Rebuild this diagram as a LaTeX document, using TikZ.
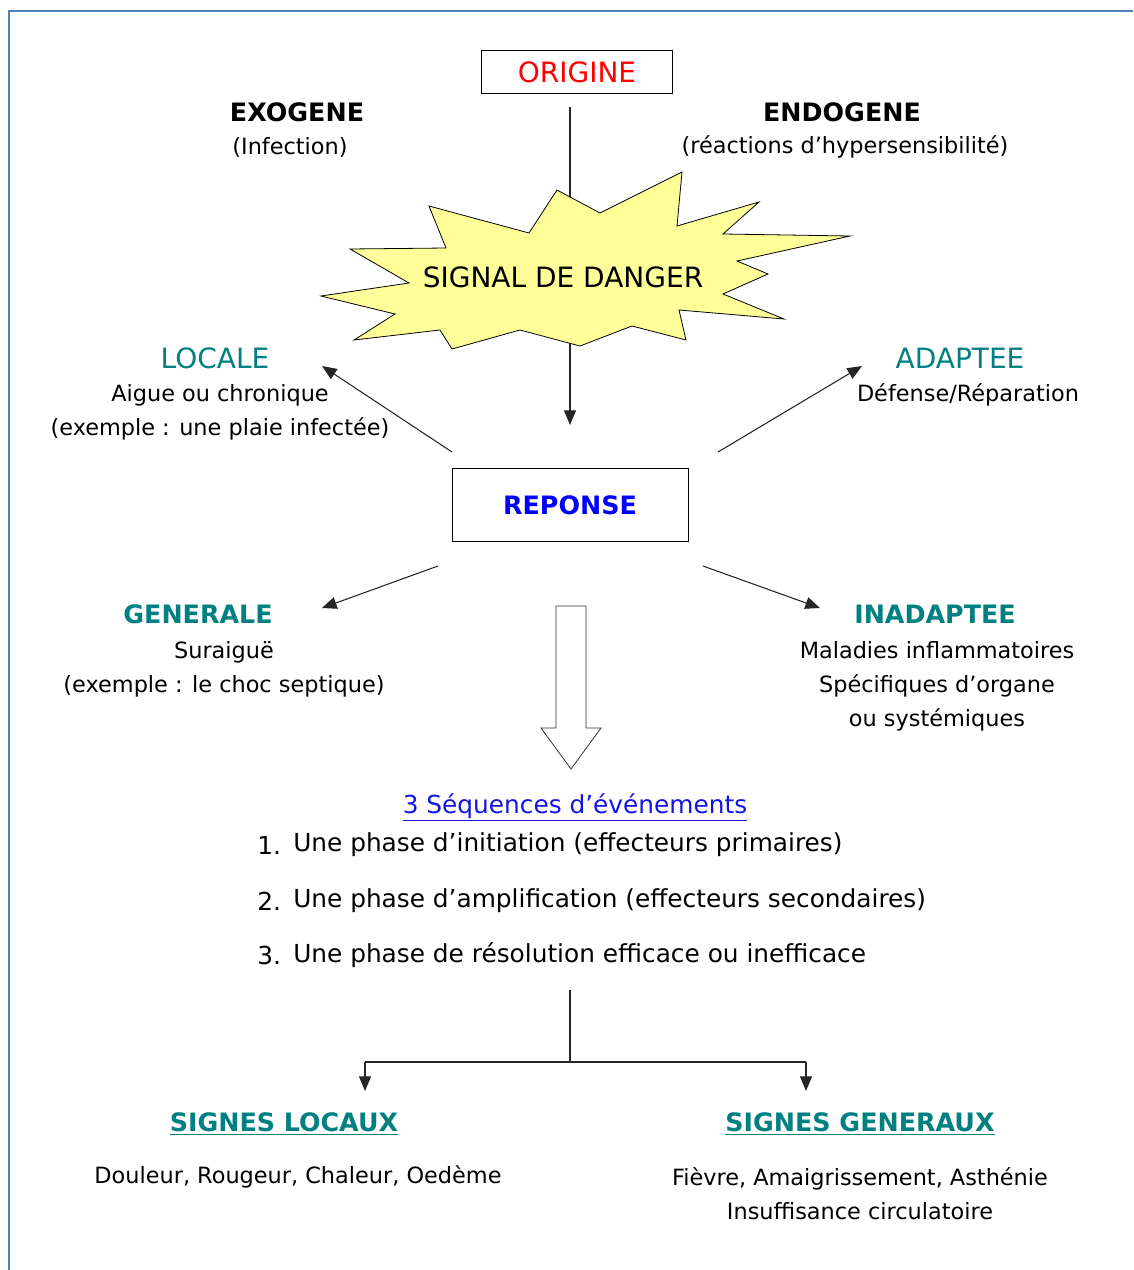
\documentclass[tikz,border=0pt]{standalone}
\usepackage{fontspec}
\setmainfont{DejaVu Sans}
\usepackage{tikz}
\usetikzlibrary{arrows.meta}

\definecolor{cadrebleu}{RGB}{79,129,189}
\definecolor{jaunesignal}{RGB}{255,255,153}
\definecolor{sarcelle}{RGB}{0,128,128}
\definecolor{bleuseq}{RGB}{20,20,230}

\tikzset{
  titre/.style={inner sep=0.75pt, font=\fontsize{21}{24}\selectfont},
  titregras/.style={inner sep=0.75pt, font=\fontsize{19}{24}\selectfont\bfseries},
  corps/.style={inner sep=0.75pt, align=center, font=\fontsize{16.8}{25.5}\selectfont},
  liste/.style={inner sep=0.75pt, anchor=west, font=\fontsize{18.6}{22}\selectfont},
  fleche/.style={-{Triangle[length=11pt,width=9pt]}, line width=0.8pt, draw=black!85},
}

\begin{document}
\begin{tikzpicture}[x=0.75pt,y=0.75pt,yscale=-1,xscale=1]
\useasboundingbox (0,0) rectangle (1133,1270);

%Frame
\draw [cadrebleu, line width=2.2pt]  (1133,11) -- (9,11) -- (9,1270) ;

% Text Node
\node (origine) [draw, line width=0.6pt, minimum width=143pt, minimum height=32pt, text=red, titre] at (577,72) {ORIGINE};
% Text Node
\node (exogene) [titregras] at (297,112) {EXOGENE};
\node (infection) [corps] at (290,147) {(Infection)};
% Text Node
\node (endogene) [titregras] at (842,112) {ENDOGENE};
\node (hyper) [corps] at (845,147) {(réactions d’hypersensibilité)};

%Straight Lines
\coordinate (vhaut) at (570,107);
\coordinate (vbas) at (570,425);
\draw [fleche]  (vhaut) -- (vbas) ;

%Star
\draw [fill=jaunesignal, line width=0.6pt]  (429,206) -- (529,233) -- (557,190) -- (600,213) -- (682,172) -- (677,226) -- (759,202) -- (723,234) -- (850,236) -- (737,261) -- (768,274) -- (723,294) -- (784,319) -- (679,310) -- (686,340) -- (632,326) -- (580,346) -- (520,330) -- (452,349) -- (440,330) -- (354,340) -- (395,314) -- (321,296) -- (409,283) -- (350,249) -- (446,248) -- cycle ;
% Text Node
\node (signal) [titre] at (563,277) {SIGNAL DE DANGER};

% Text Node
\node (reponse) [draw, line width=0.6pt, minimum width=177pt, minimum height=55pt, text=blue, titregras] at (570,505) {REPONSE};

% Text Node
\node (locale) [titre, text=sarcelle] at (215,358) {LOCALE};
\node (localetxt) [corps] at (220,412) {Aigue ou chronique\\(exemple : une plaie infectée)};
% Text Node
\node (adaptee) [titre, text=sarcelle] at (960,358) {ADAPTEE};
\node (adapteetxt) [corps] at (968,395) {Défense/Réparation};
% Text Node
\node (generale) [titregras, text=sarcelle] at (198,614) {GENERALE};
\node (generaletxt) [corps] at (224,669) {Suraiguë\\(exemple : le choc septique)};
% Text Node
\node (inadaptee) [titregras, text=sarcelle] at (935,614) {INADAPTEE};
\node (inadapteetxt) [corps] at (937,686) {Maladies inflammatoires\\Spécifiques d’organe\\ou systémiques};

%Straight Lines
\coordinate (hg) at (452,452);
\coordinate (hg2) at (322,366);
\coordinate (hd) at (718,452);
\coordinate (hd2) at (862,366);
\coordinate (bg) at (438,566);
\coordinate (bg2) at (322,608);
\coordinate (bd) at (703,566);
\coordinate (bd2) at (820,608);
\draw [fleche]  (hg) -- (hg2) ;
\draw [fleche]  (hd) -- (hd2) ;
\draw [fleche]  (bg) -- (bg2) ;
\draw [fleche]  (bd) -- (bd2) ;

%Block arrow
\draw [line width=0.6pt, draw=black!80]  (556,606) -- (586,606) -- (586,728) -- (601,728) -- (571,769) -- (541,728) -- (556,728) -- cycle ;

% Text Node
\node (sequences) [titre, font=\fontsize{18.6}{22}\selectfont, text=bleuseq] at (575,807) {\underline{3 Séquences d’événements}};
% Text Node
\node (num1) [liste] at (256,845) {1.};
\node (phase1) [liste] at (292,845) {Une phase d’initiation (effecteurs primaires)};
\node (num2) [liste] at (256,901) {2.};
\node (phase2) [liste] at (292,901) {Une phase d’amplification (effecteurs secondaires)};
\node (num3) [liste] at (256,955) {3.};
\node (phase3) [liste] at (292,955) {Une phase de résolution efficace ou inefficace};

%Straight Lines
\coordinate (tronc) at (570,990);
\coordinate (noeud) at (570,1062);
\coordinate (gauche) at (365,1062);
\coordinate (droite) at (806,1062);
\coordinate (gauche2) at (365,1091);
\coordinate (droite2) at (806,1091);
\draw [line width=0.8pt, draw=black!85]  (tronc) -- (noeud) ;
\draw [line width=0.8pt, draw=black!85]  (gauche) -- (droite) ;
\draw [fleche]  (gauche) -- (gauche2) ;
\draw [fleche]  (droite) -- (droite2) ;

% Text Node
\node (signesloc) [titregras, text=sarcelle] at (284,1124) {\underline{SIGNES LOCAUX}};
\node (signesgen) [titregras, text=sarcelle] at (860,1124) {\underline{SIGNES GENERAUX}};
% Text Node
\node (loctxt) [corps] at (298,1177) {Douleur, Rougeur, Chaleur, Oedème};
\node (gentxt) [corps] at (860,1194) {Fièvre, Amaigrissement, Asthénie\\Insuffisance circulatoire};

\end{tikzpicture}
\end{document}
